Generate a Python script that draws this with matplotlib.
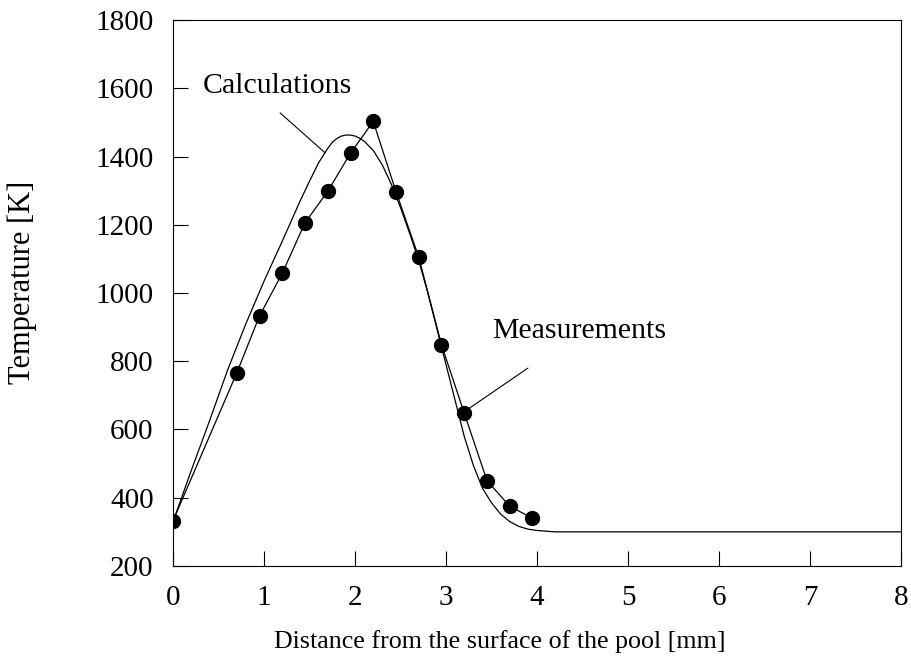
import numpy as np
import matplotlib
matplotlib.use("Agg")
import matplotlib.pyplot as plt

# Temperature profile below the pool surface: measured points and calculated curve.

# measurements (dots joined by straight segments)
x_meas = [0.0, 0.7, 0.95, 1.2, 1.45, 1.7, 1.95, 2.2, 2.45, 2.7, 2.95, 3.2, 3.45, 3.7, 3.95]
t_meas = [333, 766, 933, 1058, 1206, 1298, 1410, 1503, 1297, 1105, 848, 648, 450, 375, 340]

# calculations (smooth curve)
x_calc = [0.0, 0.2, 0.4, 0.6, 0.8, 1.0, 1.2, 1.4, 1.5, 1.6, 1.7, 1.75, 1.8, 1.85, 1.9,
          1.95, 2.0, 2.05, 2.1, 2.2, 2.3, 2.4, 2.5, 2.6, 2.7, 2.8, 2.9, 3.0, 3.1, 3.2,
          3.3, 3.4, 3.5, 3.6, 3.7, 3.8, 3.9, 4.0, 4.2, 5.0, 6.0, 7.0, 8.0]
t_calc = [330, 480, 625, 775, 910, 1035, 1152, 1272, 1328, 1382, 1424, 1442, 1453, 1460, 1463,
          1463, 1460, 1454, 1445, 1418, 1375, 1318, 1250, 1175, 1095, 1000, 895, 790, 685, 580,
          495, 428, 385, 352, 330, 316, 308, 304, 300, 300, 300, 300, 300]

plt.rcParams['font.family'] = ['Liberation Serif', 'DejaVu Serif']

fig = plt.figure(figsize=(9.11, 6.69), dpi=100)
ax = fig.add_axes([0.190, 0.154, 0.799, 0.816])

ax.plot(x_calc, t_calc, '-', color='black', lw=0.9)
ax.plot(x_meas, t_meas, 'o-', color='black', lw=0.9, ms=10)

ax.set_xlim(0, 8)
ax.set_ylim(200, 1800)
ax.set_xticks(range(0, 9))
ax.set_yticks(range(200, 1801, 200))
ax.tick_params(axis='both', direction='in', length=11, width=0.8, labelsize=21,
               top=False, right=False)
ax.tick_params(axis='x', pad=14)
ax.tick_params(axis='y', pad=14)
for s in ax.spines.values():
    s.set_linewidth(0.8)

ax.set_xlabel('Distance from the surface of the pool [mm]', fontsize=18.7, va='center')
ax.xaxis.set_label_coords(0.449, -0.139)
ax.set_ylabel('Temperature [K]', fontsize=22, va='center')
ax.yaxis.set_label_coords(-0.207, 0.520)

# labels with leader lines
ax.text(0.33, 1607, 'Calculations', fontsize=21.5, va='center', ha='left')
ax.annotate('', xy=(1.67, 1411), xytext=(1.176, 1528),
            arrowprops=dict(arrowstyle='-', color='black', lw=0.8, shrinkA=0, shrinkB=0))
ax.text(3.505, 889, 'Measurements', fontsize=21.5, va='center', ha='left')
ax.annotate('', xy=(3.26, 663), xytext=(3.90, 780),
            arrowprops=dict(arrowstyle='-', color='black', lw=0.8, shrinkA=0, shrinkB=0))

fig.savefig('out.png', dpi=100)
